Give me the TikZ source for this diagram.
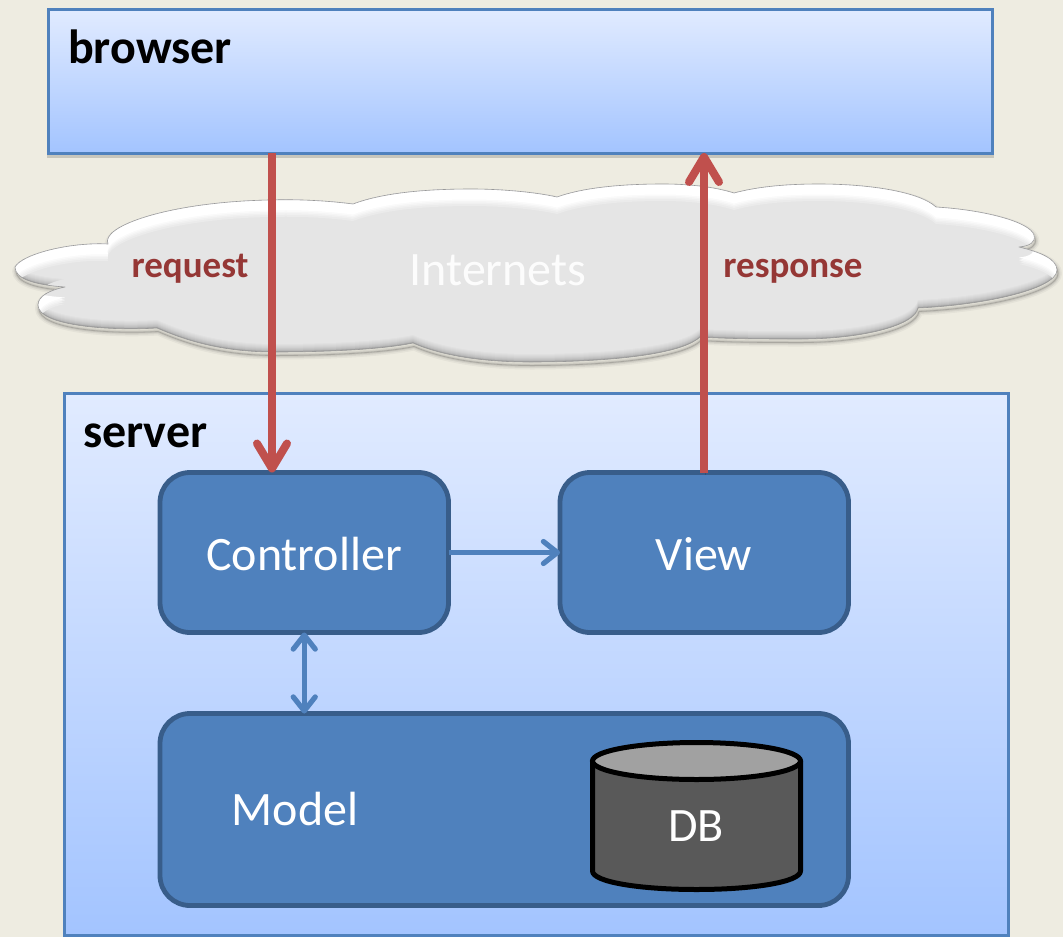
\documentclass[tikz,border=0pt]{standalone}
\usepackage{fontspec}
\setmainfont{Carlito}
\usetikzlibrary{arrows.meta,calc}
\definecolor{pagebg}{HTML}{EEECE1}
\definecolor{edgeblue}{HTML}{4F81BD}
\definecolor{darkblue}{HTML}{385D8A}
\definecolor{arrowred}{HTML}{C0504D}
\definecolor{labelred}{HTML}{953735}
\definecolor{paneltop}{HTML}{E1EBFF}
\definecolor{panelbot}{HTML}{A3C4FF}
\newcommand{\cloudoutline}{(15,267) .. controls (22,254) and (70,242) .. (108,244)
 .. controls (100,226) and (170,202) .. (269,200)
 .. controls (300,199) and (330,201) .. (353,204)
 .. controls (385,192) and (430,189) .. (472,189)
 .. controls (500,189) and (535,192) .. (557,197)
 .. controls (585,187) and (625,184) .. (663,184)
 .. controls (690,184) and (715,187) .. (734,193)
 .. controls (760,186) and (790,184) .. (819,184)
 .. controls (870,184) and (920,192) .. (936,207)
 .. controls (985,210) and (1030,222) .. (1034,235)
 .. controls (1036,242) and (1030,246) .. (1019,247)
 .. controls (1040,252) and (1057,259) .. (1057,270)
 .. controls (1057,289) and (985,305) .. (918,308)
 .. controls (915,326) and (860,339) .. (802,339)
 .. controls (765,339) and (730,339) .. (700,337)
 .. controls (680,356) and (600,362) .. (530,362)
 .. controls (480,362) and (440,355) .. (413,343)
 .. controls (380,350) and (320,352) .. (275,352)
 .. controls (220,352) and (185,340) .. (157,328)
 .. controls (110,331) and (38,326) .. (38,305)
 .. controls (38,296) and (50,290) .. (65,287)
 .. controls (35,285) and (15,279) .. (15,267) -- cycle}
\newcommand{\fs}[1]{\fontsize{#1}{#1}\selectfont}
\tikzset{
  x=1pt,y=-1pt,
  panel/.style={draw=edgeblue,line width=3pt,top color=paneltop,bottom color=panelbot,
    anchor=north west,inner sep=0pt,outer sep=0pt,
    preaction={draw=black,draw opacity=.16,fill opacity=0,line width=3pt,transform canvas={yshift=-3pt}}},
  mvcbox/.style={draw=darkblue,line width=4.8pt,fill=edgeblue,rounded corners=30pt,anchor=north west,
    inner sep=0pt,outer sep=0pt},
  paneltitle/.style={anchor=base west,inner sep=0pt,font=\bfseries\fs{48}},
  wirelabel/.style={text=labelred,anchor=base,inner sep=0pt,font=\bfseries\fs{37}},
  innerlabel/.style={text=white,anchor=base,inner sep=0pt,font=\fs{48}},
  redarrow/.style={draw=arrowred,line width=8pt,-{Straight Barb[length=25pt,width=30pt,line width=8pt,round]},
    preaction={draw=black,draw opacity=.14,transform canvas={yshift=-2pt,xshift=1pt}}},
  bluearrow/.style={draw=edgeblue,line width=5.2pt,
    preaction={draw=black,draw opacity=.14,transform canvas={yshift=-2pt}}},
}
\begin{document}
\begin{tikzpicture}
\useasboundingbox (0,0) rectangle (1063,937);
\fill[pagebg] (0,0) rectangle (1063,937);

% panels
\node[panel,minimum width=944pt,minimum height=144pt] (browser) at (48,9) {};
\node[paneltitle] (browsertitle) at (68,63.5) {browser};

% cloud shadow
\foreach \w/\o in {8/.04,5/.06,2.5/.08,0.8/.14}{
  \begin{scope}[shift={(1,3.5)}]
    \draw[black,line width=\w pt,opacity=\o,line join=round] \cloudoutline;
  \end{scope}
}
% cloud body with bevel
\begin{scope}
  \clip \cloudoutline;
  \fill[black!36] \cloudoutline;
  \foreach \d/\c in {1/28,2/24,3/21,4/18,5/16,6/14,7/12,8/10}{
    \begin{scope}[shift={(0,-\d)}]
      \fill[black!\c] \cloudoutline;
    \end{scope}
  }
  \foreach \d/\c in {17/8,15/6,13.5/4,12/2,10.5/0}{
    \begin{scope}[shift={(0,\d)}]
      \fill[even odd rule,black!\c] (-200,-200) rectangle (1300,1200) \cloudoutline;
    \end{scope}
  }
\end{scope}
\draw[black!40,line width=.6pt,line join=round] \cloudoutline;

\node[innerlabel,opacity=.9] (internets) at (498,285) {Internets};
\node[wirelabel] (requestlabel) at (190,277) {request};
\node[wirelabel] (responselabel) at (793,277) {response};

\node[panel,minimum width=944pt,minimum height=542pt] (server) at (64,393) {};
\node[paneltitle] (servertitle) at (83,447) {server};

\node[mvcbox,minimum width=288.5pt,minimum height=160pt] (ctrl) at (160,472.5) {};
\node[mvcbox,minimum width=288.5pt,minimum height=160pt] (view) at (560,472.5) {};
\node[mvcbox,minimum width=688.5pt,minimum height=192pt] (model) at (160,713.5) {};
\node[innerlabel] (ctrllabel) at (304,570) {Controller};
\node[innerlabel] (viewlabel) at (704,570) {View};
\node[innerlabel] (modellabel) at (295,825) {Model};

% database
\draw[black,line width=5pt,line join=round,fill=black!65]
  (592.5,761) -- (592.5,871) .. controls (592.5,882) and (640,889.5) .. (696.5,889.5)
  .. controls (753,889.5) and (800.5,882) .. (800.5,871) -- (800.5,761) -- cycle;
\draw[black,line width=5pt,fill=black!37] (696.5,761) ellipse [x radius=104,y radius=18.5];
\node[innerlabel] (db) at (696,841) {DB};

% connectors
\coordinate (rq) at (272,0);
\coordinate (rs) at (704,0);
\draw[redarrow] (rq |- browser.south) -- (rq |- ctrl.north);
\draw[redarrow] (rs |- view.north) -- (rs |- browser.south);
\draw[bluearrow,-{Straight Barb[length=14pt,width=22pt,line width=5.2pt,round]}] (ctrl.east) -- (view.west);
\draw[bluearrow,{Straight Barb[length=14pt,width=22pt,line width=5.2pt,round]}-{Straight Barb[length=14pt,width=22pt,line width=5.2pt,round]}] (ctrl.south) -- (ctrl.south |- model.north);
\end{tikzpicture}
\end{document}
